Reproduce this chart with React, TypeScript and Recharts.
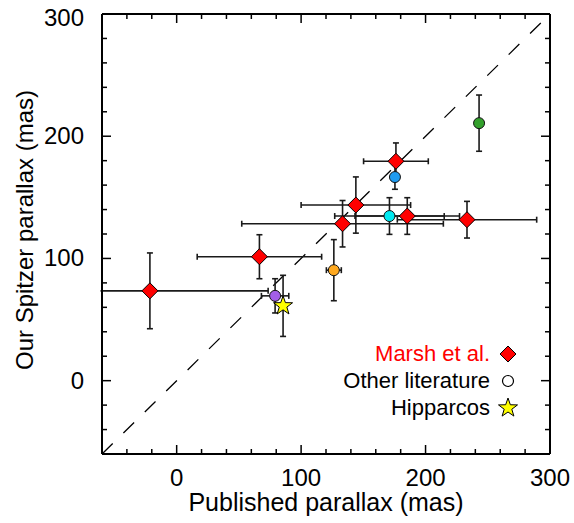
import { ScatterChart, Scatter, XAxis, YAxis, ErrorBar, ReferenceLine, Label } from 'recharts';

// Marsh et al. (red diamonds)
const marshX = [-21.5, 66.5, 144, 133.3, 185.3, 233.3, 176.2];
const marshY = [73.5, 101.4, 143.7, 128.4, 134.7, 131.7, 179.5];
const marshXErr = [95, 50, 44, 81, 42, 56, 26];
const marshYErr = [31, 18, 23, 19, 15, 15, 15];

// other literature (coloured circles)
const otherX = [243, 175.4, 171, 126.3, 79.1];
const otherY = [210.7, 166.6, 134.7, 90.4, 69.4];
const otherXErr = [0, 0, 44, 6, 11];
const otherYErr = [23, 10, 15, 25, 14];
const otherColors = ['#33a02c', '#1e9bf0', '#00e8f0', '#ffa91f', '#a35ee8'];

// Hipparcos (yellow star)
const hipX = [85.5];
const hipY = [61.2];
const hipYErr = [25];

const axisTicks = [-40, -20, 0, 20, 40, 60, 80, 100, 120, 140, 160, 180, 200, 220, 240, 260, 280, 300];
const domain: [number, number] = [-60, 300];

const FONT = '"Liberation Sans", Arial, Helvetica, sans-serif';
const BAR = '#1a1a1a';

const marshData = marshX.map((x, i) => ({ x, y: marshY[i], ex: marshXErr[i], ey: marshYErr[i] }));
const otherData = otherX.map((x, i) => ({ x, y: otherY[i], ex: otherXErr[i], ey: otherYErr[i], color: otherColors[i] }));
const hipData = hipX.map((x, i) => ({ x, y: hipY[i], ey: hipYErr[i] }));

const tickLen = (v: number) => (v % 100 === 0 ? 9 : 5);

const BottomTick = (props: any) => {
  const { x, y, payload } = props;
  const v = payload.value;
  return (
    <g>
      <line x1={x} x2={x} y1={y} y2={y - tickLen(v)} stroke="#000" strokeWidth={1.5} />
      {v % 100 === 0 && (
        <text x={x} y={y + 32} textAnchor="middle" fontSize={24} fontFamily={FONT} fill="#000">
          {v}
        </text>
      )}
    </g>
  );
};

const TopTick = (props: any) => {
  const { x, y, payload } = props;
  return <line x1={x} x2={x} y1={y} y2={y + tickLen(payload.value)} stroke="#000" strokeWidth={1.5} />;
};

const LeftTick = (props: any) => {
  const { x, y, payload } = props;
  const v = payload.value;
  return (
    <g>
      <line x1={x} x2={x + tickLen(v)} y1={y} y2={y} stroke="#000" strokeWidth={1.5} />
      {v % 100 === 0 && (
        <text x={x - 18} y={v === 300 ? y + 12 : y + 8} textAnchor="end" fontSize={24} fontFamily={FONT} fill="#000">
          {v}
        </text>
      )}
    </g>
  );
};

const RightTick = (props: any) => {
  const { x, y, payload } = props;
  return <line x1={x} x2={x - tickLen(payload.value)} y1={y} y2={y} stroke="#000" strokeWidth={1.5} />;
};

const diamondPath = (cx: number, cy: number, r: number) =>
  `M${cx},${cy - r}L${cx + r},${cy}L${cx},${cy + r}L${cx - r},${cy}Z`;

const starPath = (cx: number, cy: number, R: number, r: number) => {
  let d = '';
  for (let k = 0; k < 10; k++) {
    const rad = k % 2 === 0 ? R : r;
    const a = -Math.PI / 2 + (k * Math.PI) / 5;
    d += `${k === 0 ? 'M' : 'L'}${cx + rad * Math.cos(a)},${cy + rad * Math.sin(a)}`;
  }
  return d + 'Z';
};

const Diamond = (props: any) => (
  <path d={diamondPath(props.cx, props.cy, 8)} fill="#ff0000" stroke="#000" strokeWidth={1} />
);

const Dot = (props: any) => (
  <circle cx={props.cx} cy={props.cy} r={5.5} fill={props.payload.color} stroke="#111" strokeWidth={1} />
);

const Star = (props: any) => (
  <path d={starPath(props.cx, props.cy, 10, 4)} fill="#ffff00" stroke="#000" strokeWidth={1} />
);

const legendRows = [
  { label: 'Marsh et al.', color: '#ff0000', kind: 'diamond' },
  { label: 'Other literature', color: '#000', kind: 'circle' },
  { label: 'Hipparcos', color: '#000', kind: 'star' },
];

// overlay: masks the part of the long error bar that runs past the left frame,
// then the y title and the legend on top
const Overlay = () => (
  <svg width={574} height={523} style={{ position: 'absolute', left: 0, top: 0, pointerEvents: 'none' }}>
    <rect x={0} y={284} width={100.5} height={13} fill="#fff" />
    <text
      x={33}
      y={230}
      transform="rotate(-90 33 230)"
      textAnchor="middle"
      fontSize={24}
      fontFamily={FONT}
      fill="#000"
    >
      Our Spitzer parallax (mas)
    </text>
    {legendRows.map((row, i) => {
      const base = 361 + i * 27;
      const cy = base - 7;
      return (
        <g key={row.label}>
          <text x={490} y={base} textAnchor="end" fontSize={22} fontFamily={FONT} fill={row.color}>
            {row.label}
          </text>
          {row.kind === 'diamond' && <path d={diamondPath(508, cy, 8)} fill="#ff0000" stroke="#000" strokeWidth={1} />}
          {row.kind === 'circle' && <circle cx={508} cy={cy} r={5.5} fill="#fff" stroke="#000" strokeWidth={1.2} />}
          {row.kind === 'star' && <path d={starPath(508, cy, 10, 4)} fill="#ffff00" stroke="#000" strokeWidth={1} />}
        </g>
      );
    })}
  </svg>
);

const App = () => {
  return (
    <div style={{ position: 'absolute', left: 0, top: 0, width: 574, height: 523, background: '#fff' }}>
      <ScatterChart width={574} height={523} margin={{ top: 13, right: 23, bottom: 0, left: 0 }}>
        <XAxis
          xAxisId="bottom"
          type="number"
          dataKey="x"
          domain={domain}
          ticks={axisTicks}
          allowDataOverflow
          height={69}
          tickSize={0}
          tickMargin={0}
          tickLine={false}
          axisLine={{ stroke: '#000', strokeWidth: 2 }}
          tick={<BottomTick />}
          interval={0}
        >
          <Label
            content={() => (
              <text x={326} y={511} textAnchor="middle" fontSize={25} fontFamily={FONT} fill="#000">
                Published parallax (mas)
              </text>
            )}
          />
        </XAxis>
        <XAxis
          xAxisId="top"
          orientation="top"
          type="number"
          dataKey="x"
          domain={domain}
          ticks={axisTicks}
          allowDataOverflow
          height={1}
          tickSize={0}
          tickMargin={0}
          tickLine={false}
          axisLine={{ stroke: '#000', strokeWidth: 2 }}
          tick={<TopTick />}
          interval={0}
        />
        <YAxis
          yAxisId="left"
          type="number"
          dataKey="y"
          domain={domain}
          ticks={axisTicks}
          allowDataOverflow
          width={102}
          tickSize={0}
          tickMargin={0}
          tickLine={false}
          axisLine={{ stroke: '#000', strokeWidth: 2 }}
          tick={<LeftTick />}
          interval={0}
        />
        <YAxis
          yAxisId="right"
          orientation="right"
          type="number"
          dataKey="y"
          domain={domain}
          ticks={axisTicks}
          allowDataOverflow
          width={1}
          tickSize={0}
          tickMargin={0}
          tickLine={false}
          axisLine={{ stroke: '#000', strokeWidth: 2 }}
          tick={<RightTick />}
          interval={0}
        />
        <ReferenceLine
          xAxisId="bottom"
          yAxisId="left"
          segment={[
            { x: -60, y: -60 },
            { x: 300, y: 300 },
          ]}
          stroke="#000"
          strokeWidth={1.3}
          strokeDasharray="15 15"
        />
        <Scatter xAxisId="bottom" yAxisId="left" data={marshData} shape={Diamond} isAnimationActive={false}>
          <ErrorBar dataKey="ex" direction="x" width={3} stroke={BAR} strokeWidth={1.6} />
          <ErrorBar dataKey="ey" direction="y" width={3} stroke={BAR} strokeWidth={1.6} />
        </Scatter>
        <Scatter xAxisId="bottom" yAxisId="left" data={otherData} shape={Dot} isAnimationActive={false}>
          <ErrorBar dataKey="ex" direction="x" width={3} stroke={BAR} strokeWidth={1.6} />
          <ErrorBar dataKey="ey" direction="y" width={3} stroke={BAR} strokeWidth={1.6} />
        </Scatter>
        <Scatter xAxisId="bottom" yAxisId="left" data={hipData} shape={Star} isAnimationActive={false}>
          <ErrorBar dataKey="ey" direction="y" width={3} stroke={BAR} strokeWidth={1.6} />
        </Scatter>
      </ScatterChart>
      <Overlay />
    </div>
  );
};

export default App;
